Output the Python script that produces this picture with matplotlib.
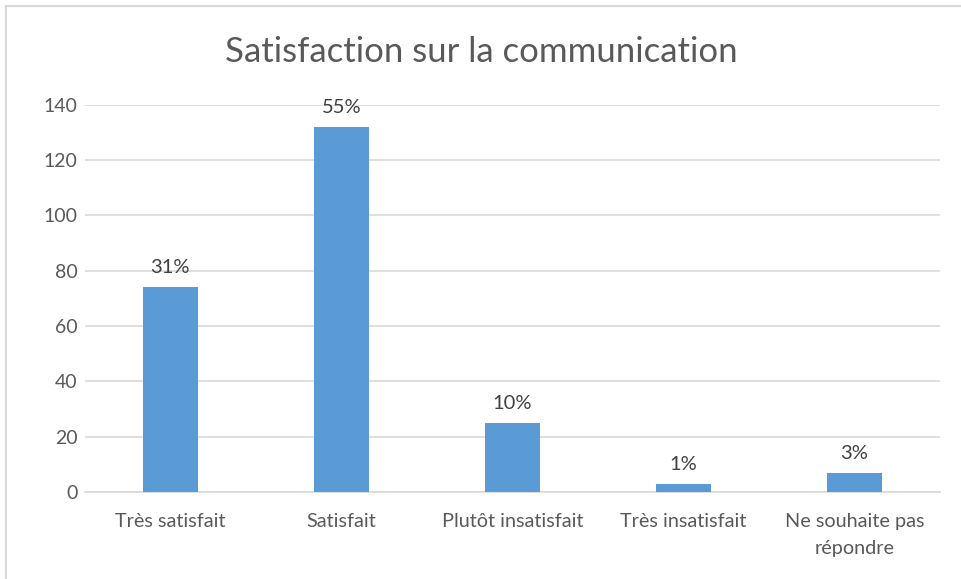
import matplotlib.pyplot as plt
from matplotlib.patches import Rectangle

categories = ['Très satisfait', 'Satisfait', 'Plutôt insatisfait',
              'Très insatisfait', 'Ne souhaite pas\nrépondre']
counts = [74, 132, 25, 3, 7]
pct_labels = ['31%', '55%', '10%', '1%', '3%']
yticks = [0, 20, 40, 60, 80, 100, 120, 140]

plt.rcParams['font.family'] = ['Lato', 'DejaVu Sans']
grey = '#595959'

fig = plt.figure(figsize=(9.62, 5.79), dpi=100)
ax = fig.add_axes([0.088, 0.150, 0.889, 0.669])

x = range(len(categories))
bars = ax.bar(x, counts, width=0.32, color='#5b9bd5', zorder=3)
for b, lab in zip(bars, pct_labels):
    ax.annotate(lab, (b.get_x() + b.get_width() / 2, b.get_height()),
                xytext=(0, 8), textcoords='offset points',
                ha='center', va='bottom', fontsize=14.5, color='#404040')

ax.set_xlim(-0.5, len(categories) - 0.5)
ax.set_ylim(0, 140)
ax.set_yticks(yticks)
ax.set_xticks(list(x))
ax.set_xticklabels(categories, fontsize=14.3, color=grey, linespacing=1.75)
ax.tick_params(axis='y', labelsize=14, labelcolor=grey, length=0, pad=5)
ax.tick_params(axis='x', length=0, pad=15)
ax.yaxis.grid(True, color='#d9d9d9', linewidth=1.2, zorder=0)
for s in ['top', 'right', 'left']:
    ax.spines[s].set_visible(False)
ax.spines['bottom'].set_color('#d9d9d9')
ax.spines['bottom'].set_linewidth(1.2)

fig.text(0.5, 0.91, 'Satisfaction sur la communication', ha='center',
         va='center', fontsize=25, color=grey)

fig.patches.append(Rectangle((0.006, -0.01), 1.1, 1.0, transform=fig.transFigure,
                             fill=False, edgecolor='#d9d9d9', linewidth=1.5))

fig.savefig('out.png', dpi=100)
